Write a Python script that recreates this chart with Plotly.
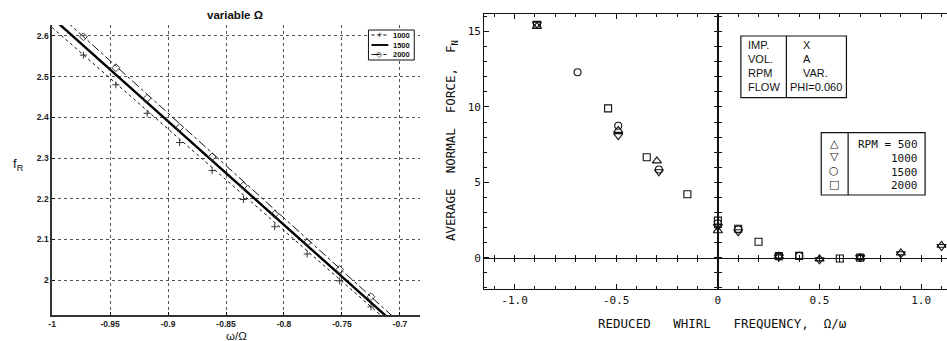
import plotly.graph_objects as go

W, H = 947, 341

# ---------------- left panel data (variable Omega) ----------------
omega_ratio = [-0.973, -0.945, -0.918, -0.890, -0.862, -0.835, -0.808, -0.780, -0.752, -0.725]
fR_1000 = [2.553, 2.480, 2.410, 2.338, 2.269, 2.198, 2.131, 2.064, 1.998, 1.934]
fR_2000 = [2.598, 2.522, 2.447, 2.375, 2.303, 2.232, 2.162, 2.092, 2.026, 1.959]
fit_x = [-1.0, -0.68]
fit_1000 = [2.621, 1.822]
fit_1500 = [2.645, 1.830]
fit_2000 = [2.668, 1.843]
left_xticks = [-1.0, -0.95, -0.9, -0.85, -0.8, -0.75, -0.7]
left_xticklabels = ["-1", "-0.95", "-0.9", "-0.85", "-0.8", "-0.75", "-0.7"]
left_yticks = [2.0, 2.1, 2.2, 2.3, 2.4, 2.5, 2.6]
left_yticklabels = ["2", "2.1", "2.2", "2.3", "2.4", "2.5", "2.6"]
left_legend = ["1000", "1500", "2000"]

# ---------------- right panel data (average normal force) ----------------
rpm500_x = [-0.89, -0.49, -0.30, 0.0, 0.3, 0.5, 0.7, 0.9, 1.1]
rpm500_y = [15.35, 8.45, 6.42, 1.79, 0.10, -0.08, 0.0, 0.32, 0.82]
rpm1000_x = [-0.89, -0.49, -0.29, 0.0, 0.1, 0.3, 0.5, 0.7, 0.9, 1.1]
rpm1000_y = [15.5, 8.1, 5.7, 2.06, 1.72, 0.05, -0.14, 0.02, 0.26, 0.74]
rpm1500_x = [-0.69, -0.49, -0.29, 0.0, 0.1, 0.3, 0.4]
rpm1500_y = [12.3, 8.75, 5.85, 2.28, 1.88, 0.10, 0.12]
rpm2000_x = [-0.89, -0.54, -0.35, -0.15, 0.0, 0.1, 0.2, 0.3, 0.4, 0.6, 0.7]
rpm2000_y = [15.45, 9.91, 6.66, 4.21, 2.46, 1.92, 1.06, 0.10, 0.12, -0.06, 0.0]
right_xticks = [-1.0, -0.5, 0.0, 0.5, 1.0]
right_xticklabels = ["-1.0", "-0.5", "0", "0.5", "1.0"]
right_yticks = [0, 5, 10, 15]
right_yticklabels = ["0", "5", "10", "15"]
rpm_labels = ["RPM = 500", "1000", "1500", "2000"]
rpm_symbols = ["△", "▽", "○", "□"]
info_keys = ["IMP.", "VOL.", "RPM", "FLOW"]
info_vals = ["X", "A", "VAR.", "PHI=0.060"]


def px(x):
    return x / W


def py(y):
    return 1 - y / H


# geometry (pixels)
L_X0, L_X1, L_YT, L_YB = 48.3, 418.0, 25.0, 315.0
R_X0, R_X1, R_YT, R_YB = 482.3, 947.0, 14.0, 289.3
L_XR = [-1.0, -0.6825]
L_YR = [1.914, 2.627]
R_XR = [-1.149, 1.127]
R_YR = [-2.10, 16.17]

LFONT = "Liberation Sans"
MONO = "DejaVu Sans Mono"
INK = "#111111"

fig = go.Figure()

# ---- left traces ----
fig.add_trace(go.Scatter(x=fit_x, y=fit_1000, mode="lines", xaxis="x", yaxis="y",
                         line=dict(color=INK, width=1, dash="dot")))
fig.add_trace(go.Scatter(x=omega_ratio, y=fR_1000, mode="markers", xaxis="x", yaxis="y",
                         marker=dict(symbol="cross-thin-open", size=5, color="#333",
                                     line=dict(color="#333", width=1))))
fig.add_trace(go.Scatter(x=fit_x, y=fit_1500, mode="lines", xaxis="x", yaxis="y",
                         line=dict(color="black", width=2.4)))
fig.add_trace(go.Scatter(x=fit_x, y=fit_2000, mode="lines", xaxis="x", yaxis="y",
                         line=dict(color=INK, width=1, dash="dashdot")))
fig.add_trace(go.Scatter(x=omega_ratio, y=fR_2000, mode="markers", xaxis="x", yaxis="y",
                         marker=dict(symbol="diamond-open", size=6, color="#333",
                                     line=dict(color="#333", width=1))))

# ---- right traces ----
for xs, ys, sym, sz in [(rpm500_x, rpm500_y, "triangle-up-open", 8),
                        (rpm1000_x, rpm1000_y, "triangle-down-open", 8),
                        (rpm1500_x, rpm1500_y, "circle-open", 7),
                        (rpm2000_x, rpm2000_y, "square-open", 7)]:
    fig.add_trace(go.Scatter(x=xs, y=ys, mode="markers", xaxis="x2", yaxis="y2",
                             cliponaxis=False,
                             marker=dict(symbol=sym, size=sz, color=INK,
                                         line=dict(color=INK, width=1.1))))

# invisible traces that carry the zero-crossing axes
fig.add_trace(go.Scatter(x=rpm500_x, y=rpm500_y, mode="markers", xaxis="x3", yaxis="y3",
                         marker=dict(opacity=0), hoverinfo="skip"))
fig.add_trace(go.Scatter(x=rpm500_x, y=rpm500_y, mode="markers", xaxis="x4", yaxis="y4",
                         marker=dict(opacity=0), hoverinfo="skip"))

# positions of the zero lines in paper coordinates
rdx = [px(R_X0), px(R_X1)]
rdy = [py(R_YB), py(R_YT)]
y0_pos = rdy[0] + (0 - R_YR[0]) / (R_YR[1] - R_YR[0]) * (rdy[1] - rdy[0])
x0_pos = rdx[0] + (0 - R_XR[0]) / (R_XR[1] - R_XR[0]) * (rdx[1] - rdx[0])

left_tick_font = dict(family=LFONT, size=8.5, color="#222", weight="bold")
right_tick_font = dict(family=MONO, size=11, color=INK)

layout = dict(
    width=W, height=H,
    margin=dict(l=0, r=0, t=0, b=0),
    paper_bgcolor="white", plot_bgcolor="white",
    showlegend=False,
    xaxis=dict(domain=[px(L_X0), px(L_X1)], range=L_XR, anchor="y",
               tickvals=left_xticks, ticktext=left_xticklabels,
               ticks="inside", ticklen=3, tickcolor=INK,
               showline=True, linecolor="#333", linewidth=2, mirror=False,
               showgrid=True, gridcolor="#555", griddash="dot", gridwidth=1,
               zeroline=False, tickfont=left_tick_font),
    yaxis=dict(domain=[py(L_YB), py(L_YT)], range=L_YR, anchor="x",
               tickvals=left_yticks, ticktext=left_yticklabels,
               ticks="inside", ticklen=3, tickcolor=INK,
               showline=True, linecolor="#333", linewidth=1.5, mirror=False,
               showgrid=True, gridcolor="#555", griddash="dot", gridwidth=1,
               zeroline=False, tickfont=left_tick_font),
    xaxis2=dict(domain=rdx, range=R_XR, anchor="y2",
                tickvals=right_xticks, ticktext=right_xticklabels,
                ticks="inside", ticklen=5, tickcolor=INK, tickwidth=1,
                minor=dict(dtick=0.1, tick0=0, ticks="inside", ticklen=3, tickcolor=INK),
                showline=True, linecolor=INK, linewidth=1.3, mirror="ticks",
                showgrid=False, zeroline=False, tickfont=right_tick_font),
    yaxis2=dict(domain=rdy, range=R_YR, anchor="x2",
                tickvals=right_yticks, ticktext=right_yticklabels,
                ticks="inside", ticklen=5, tickcolor=INK, tickwidth=1,
                minor=dict(dtick=1, tick0=0, ticks="inside", ticklen=3, tickcolor=INK),
                showline=True, linecolor=INK, linewidth=1.3, mirror=False,
                showgrid=False, zeroline=False, tickfont=right_tick_font),
    xaxis3=dict(overlaying="x2", domain=rdx, range=R_XR, anchor="free", position=y0_pos,
                dtick=0.1, tick0=0, ticks="outside", ticklen=3, tickcolor=INK,
                showticklabels=False, showline=True, linecolor=INK, linewidth=1.3,
                showgrid=False, zeroline=False),
    xaxis4=dict(overlaying="x2", domain=rdx, range=R_XR, anchor="free", position=y0_pos,
                dtick=0.1, tick0=0, ticks="inside", ticklen=3, tickcolor=INK,
                showticklabels=False, showline=False,
                showgrid=False, zeroline=False),
    yaxis3=dict(overlaying="y2", domain=rdy, range=R_YR, anchor="free", position=x0_pos,
                dtick=1, tick0=0, ticks="outside", ticklen=3, tickcolor=INK,
                showticklabels=False, showline=True, linecolor=INK, linewidth=1.6,
                showgrid=False, zeroline=False),
    yaxis4=dict(overlaying="y2", domain=rdy, range=R_YR, anchor="free", position=x0_pos,
                dtick=1, tick0=0, ticks="inside", ticklen=3, tickcolor=INK,
                showticklabels=False, showline=False,
                showgrid=False, zeroline=False),
)
fig.update_layout(**layout)

shapes = []
ann = []


def text(x, y, s, size, family=LFONT, xanchor="center", yanchor="middle", angle=0, color=INK, align="center"):
    ann.append(dict(x=px(x), y=py(y), xref="paper", yref="paper", text=s, showarrow=False,
                    xanchor=xanchor, yanchor=yanchor, textangle=angle, align=align,
                    font=dict(family=family, size=size, color=color)))


# ---- left panel titles ----
text(232, 15, "<b>variable Ω</b>", 11.5)
text(233, 335.5, "ω/Ω", 11.5)
text(15, 164, "f<sub>R</sub>", 13)

# ---- left legend ----
shapes.append(dict(type="rect", xref="paper", yref="paper",
                   x0=px(366), x1=px(412), y0=py(30), y1=py(60),
                   line=dict(color=INK, width=1), fillcolor="white", layer="above"))
rows = [35.0, 45.0, 54.5]
dashes = ["dot", "solid", "dashdot"]
widths = [1, 2, 1]
for r, d, w in zip(rows, dashes, widths):
    shapes.append(dict(type="line", xref="paper", yref="paper",
                       x0=px(369), x1=px(386), y0=py(r), y1=py(r),
                       line=dict(color=INK, width=w, dash=d), layer="above"))
text(377.5, rows[0], "+", 9)
text(377.5, rows[2], "◇", 8)
for r, lab in zip(rows, left_legend):
    text(389, r, "<b>" + lab + "</b>", 7.5, xanchor="left")

# ---- right panel titles ----
text(722, 323, "REDUCED\u00a0\u00a0\u00a0WHIRL\u00a0\u00a0\u00a0FREQUENCY,\u00a0\u00a0Ω/ω", 12.5, family=MONO)
text(449, 141, "AVERAGE\u00a0\u00a0NORMAL\u00a0\u00a0FORCE,\u00a0\u00a0F<sub>N</sub>", 12.5, family=MONO, angle=-90)

# ---- info box ----
shapes.append(dict(type="rect", xref="paper", yref="paper",
                   x0=px(740), x1=px(846), y0=py(36), y1=py(97.7),
                   line=dict(color=INK, width=1.2), fillcolor="white", layer="above"))
shapes.append(dict(type="line", xref="paper", yref="paper",
                   x0=px(785.7), x1=px(785.7), y0=py(36), y1=py(97.7),
                   line=dict(color=INK, width=1.2), layer="above"))
info_rows = [45.0, 59.3, 72.7, 86.7]
info_val_x = [800, 800, 800, 787]
for r, k, v, vx in zip(info_rows, info_keys, info_vals, info_val_x):
    text(745, r, k, 11, xanchor="left")
    text(vx, r, v, 11, xanchor="left")

# ---- rpm legend box ----
shapes.append(dict(type="rect", xref="paper", yref="paper",
                   x0=px(820.7), x1=px(925), y0=py(132.7), y1=py(195),
                   line=dict(color=INK, width=1.2), fillcolor="white", layer="above"))
shapes.append(dict(type="line", xref="paper", yref="paper",
                   x0=px(847.7), x1=px(847.7), y0=py(132.7), y1=py(195),
                   line=dict(color=INK, width=1.2), layer="above"))
sym_rows = [143.5, 156.5, 170.5, 184.0]
txt_rows = [144.0, 158.0, 172.0, 185.3]
for r, s in zip(sym_rows, rpm_symbols):
    text(834, r, s, 11, family="DejaVu Sans")
for r, lab in zip(txt_rows, rpm_labels):
    text(919.5, r, lab, 11, family=MONO, xanchor="right")

fig.update_layout(shapes=shapes, annotations=ann)
fig.write_html("out.html",
               config={"displayModeBar": False},
               post_script="document.body.style.margin='0';document.body.style.overflow='hidden';")
